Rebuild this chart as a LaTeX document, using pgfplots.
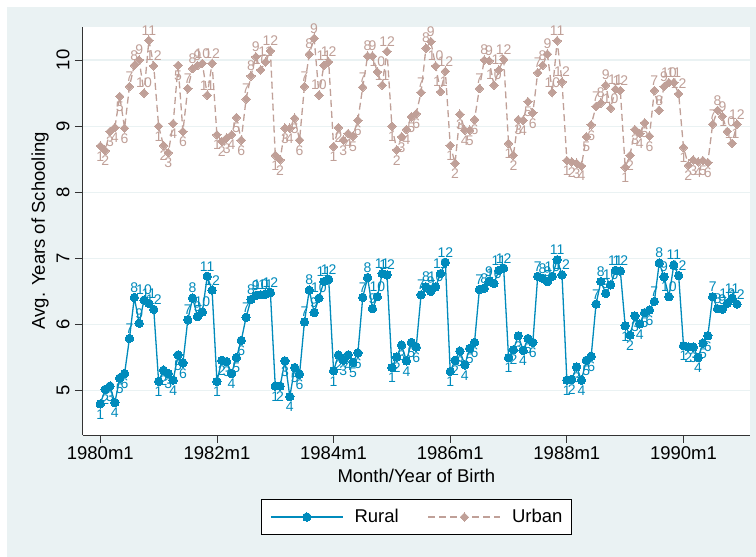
\documentclass[border=0pt]{standalone}
\usepackage{fontspec}
\setmainfont{Liberation Sans}
\usepackage{pgfplots}
\usepackage{pgfplotstable}
\pgfplotsset{compat=1.18}
\definecolor{rur}{RGB}{0,139,188}
\definecolor{urb}{RGB}{192,160,152}
\definecolor{bg}{RGB}{234,242,243}
\definecolor{gridc}{RGB}{234,242,243}

\pgfplotstableread{
t mon r u
0 1 4.80 8.70
1 2 5.02 8.63
2 3 5.07 8.92
3 4 4.82 8.98
4 5 5.19 9.45
5 6 5.26 8.97
6 7 5.79 9.60
7 8 6.41 9.92
8 9 6.02 10.00
9 10 6.37 9.50
10 11 6.32 10.30
11 12 6.23 9.91
12 1 5.14 9.00
13 2 5.31 8.71
14 3 5.26 8.60
15 4 5.16 9.04
16 5 5.54 9.92
17 6 5.42 8.92
18 7 6.07 9.57
19 8 6.40 9.87
20 9 6.12 9.92
21 10 6.19 9.95
22 11 6.73 9.47
23 12 6.52 9.95
24 1 5.14 8.87
25 2 5.46 8.77
26 3 5.44 8.82
27 4 5.26 8.87
28 5 5.50 9.13
29 6 5.76 8.79
30 7 6.11 9.41
31 8 6.38 9.76
32 9 6.44 10.05
33 10 6.45 9.85
34 11 6.46 9.97
35 12 6.48 10.14
36 1 5.07 8.56
37 2 5.07 8.49
38 3 5.45 8.97
39 4 4.91 8.97
40 5 5.35 9.12
41 6 5.25 8.79
42 7 6.04 9.60
43 8 6.52 10.09
44 9 6.18 10.33
45 10 6.40 9.47
46 11 6.65 9.92
47 12 6.68 9.97
48 1 5.30 8.69
49 2 5.54 8.98
50 3 5.46 8.79
51 4 5.54 8.89
52 5 5.43 8.85
53 6 5.57 9.09
54 7 6.41 9.59
55 8 6.71 10.06
56 9 6.24 10.06
57 10 6.42 9.82
58 11 6.77 9.62
59 12 6.75 10.13
60 1 5.35 9.00
61 2 5.51 8.64
62 3 5.69 8.84
63 4 5.45 8.95
64 5 5.73 9.14
65 6 5.66 9.19
66 7 6.45 9.51
67 8 6.57 10.18
68 9 6.50 10.28
69 10 6.57 9.91
70 11 6.77 9.52
71 12 6.94 9.83
72 1 5.29 8.71
73 2 5.46 8.44
74 3 5.60 9.18
75 4 5.39 8.94
76 5 5.64 8.94
77 6 5.73 9.10
78 7 6.53 9.57
79 8 6.55 10.00
80 9 6.65 9.99
81 10 6.62 9.62
82 11 6.82 9.85
83 12 6.85 10.01
84 1 5.50 8.74
85 2 5.62 8.56
86 3 5.83 9.10
87 4 5.61 9.09
88 5 5.79 9.37
89 6 5.73 9.20
90 7 6.73 9.81
91 8 6.70 9.92
92 9 6.65 10.09
93 10 6.73 9.51
94 11 6.98 10.29
95 12 6.75 9.67
96 1 5.16 8.48
97 2 5.17 8.46
98 3 5.36 8.44
99 4 5.16 8.40
100 5 5.46 8.84
101 6 5.52 9.02
102 7 6.31 9.30
103 8 6.65 9.35
104 9 6.47 9.62
105 10 6.60 9.27
106 11 6.82 9.56
107 12 6.81 9.54
108 1 5.98 8.38
109 2 5.84 8.56
110 3 6.13 8.95
111 4 6.01 8.89
112 5 6.18 9.05
113 6 6.22 8.85
114 7 6.35 9.54
115 8 6.93 9.24
116 9 6.72 9.60
117 10 6.42 9.66
118 11 6.90 9.66
119 12 6.74 9.49
120 1 5.68 8.68
121 2 5.66 8.41
122 3 5.66 8.49
123 4 5.50 8.46
124 5 5.72 8.48
125 6 5.83 8.45
126 7 6.42 9.03
127 8 6.24 9.24
128 9 6.23 9.15
129 10 6.32 8.92
130 11 6.40 8.74
131 12 6.31 9.03
}\data

\newcommand{\mainfont}{\fontsize{18.5}{22}\selectfont}
\newcommand{\lblfont}{\fontsize{14}{16}\selectfont}

\begin{document}
\begin{tikzpicture}[x=1pt,y=1pt]
\useasboundingbox (0,0) rectangle (756,557);
\fill[white] (0,0) rectangle (756,557);
\fill[bg] (7,0) rectangle (756,550);
\begin{axis}[
  /pgf/number format/assume math mode=true,
  at={(82.7pt,122pt)}, anchor=south west,
  scale only axis, width=667.3pt, height=408.4pt,
  xmin=-3.62, xmax=133.68, ymin=4.33, ymax=10.505,
  axis background/.style={fill=white},
  axis lines=left, axis line style={-, black!80, line width=0.8pt},
  xtick={0,24,48,72,96,120},
  xticklabels={1980m1,1982m1,1984m1,1986m1,1988m1,1990m1},
  ytick={5,6,7,8,9,10},
  tick align=outside, major tick length=7.7pt,
  tick style={black!80, line width=0.8pt},
  ymajorgrids, grid style={gridc, line width=1.2pt},
  yticklabel style={rotate=90, anchor=south},
  yticklabel shift=2pt,
  tick label style={font=\mainfont, text=black},
  label style={font=\mainfont, text=black},
  xlabel={Month/Year of Birth},
  ylabel={Avg. Years of Schooling},
  xlabel style={at={(axis description cs:0.5,-0.1004)}, anchor=center},
  ylabel style={at={(axis description cs:-0.064,0.5)}, anchor=center},
  clip=false,
  legend columns=2,
  legend style={at={(0.5,-0.1574)}, anchor=north, draw=black, line width=0.6pt,
    fill=white, font=\mainfont, inner xsep=9pt, inner ysep=8pt,
    nodes={inner xsep=0pt, inner ysep=2pt},
    /tikz/every odd column/.append style={column sep=11pt},
    /tikz/every even column/.append style={column sep=29pt}},
  legend image code/.code={\draw[mark repeat=2, mark phase=2, #1] plot coordinates {(0pt,0pt) (36pt,0pt) (72pt,0pt)};},
]
\addplot[rur, line width=1.3pt, mark=*, mark size=4.2pt,
  mark options={solid, fill=rur, draw=rur, line width=0pt}]
  table[x=t, y=r] {\data};
\addlegendentry{Rural}
\addplot[urb, line width=1.3pt, dash pattern=on 7pt off 4pt, mark=square*, mark size=3pt,
  mark options={solid, rotate=45, fill=urb, draw=urb, line width=0pt}]
  table[x=t, y=u] {\data};
\addlegendentry{Urban}

\addplot[draw=none, mark=none, forget plot, nodes near coords, point meta=explicit,
  restrict expr to domain={\thisrow{mon}}{1:6},
  every node near coord/.style={font=\lblfont, text=rur, anchor=north, yshift=-2pt}]
  table[x=t, y=r, meta=mon] {\data};
\addplot[draw=none, mark=none, forget plot, nodes near coords, point meta=explicit,
  restrict expr to domain={\thisrow{mon}}{7:12},
  every node near coord/.style={font=\lblfont, text=rur, anchor=south, yshift=1.5pt}]
  table[x=t, y=r, meta=mon] {\data};
\addplot[draw=none, mark=none, forget plot, nodes near coords, point meta=explicit,
  restrict expr to domain={\thisrow{mon}}{1:6},
  every node near coord/.style={font=\lblfont, text=urb, anchor=north, yshift=-2pt}]
  table[x=t, y=u, meta=mon] {\data};
\addplot[draw=none, mark=none, forget plot, nodes near coords, point meta=explicit,
  restrict expr to domain={\thisrow{mon}}{7:12},
  every node near coord/.style={font=\lblfont, text=urb, anchor=south, yshift=1.5pt}]
  table[x=t, y=u, meta=mon] {\data};
\end{axis}
\end{tikzpicture}
\end{document}
